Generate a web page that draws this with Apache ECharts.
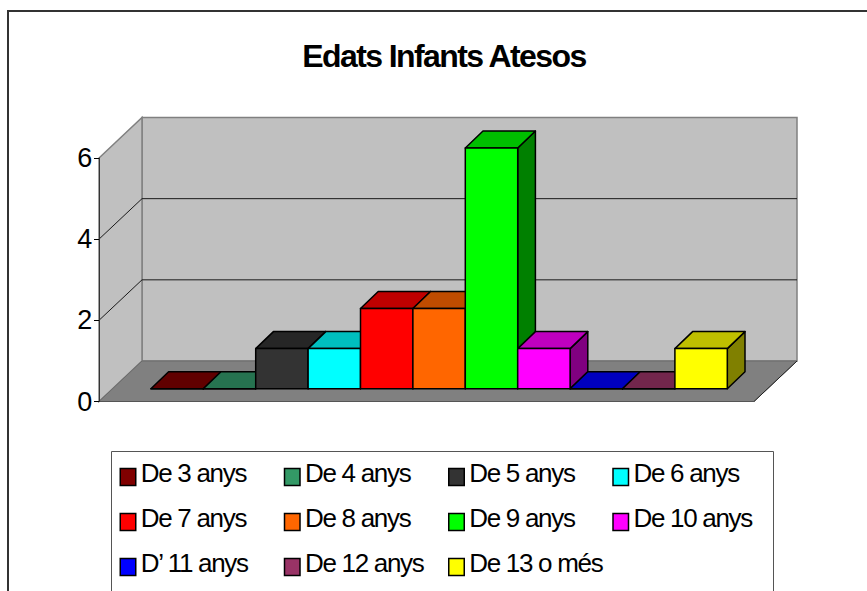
<!DOCTYPE html>
<html>
<head>
<meta charset="utf-8">
<style>
html,body{margin:0;padding:0;background:#fff;overflow:hidden}
#c{width:867px;height:591px}
#c text{letter-spacing:-0.05em}
</style>
<script src="https://cdn.jsdelivr.net/npm/echarts@6/dist/echarts.min.js"></script>
</head>
<body>
<div id="c"></div>
<script>
const titleText = 'Edats Infants Atesos';
const seriesNames = ['De 3 anys','De 4 anys','De 5 anys','De 6 anys','De 7 anys','De 8 anys','De 9 anys','De 10 anys',"D\u2019 11 anys",'De 12 anys','De 13 o m\u00e9s'];
const seriesValues = [0,0,1,1,2,2,6,1,0,0,1];
const faceColors = ['#800000','#339966','#333333','#00ffff','#ff0000','#ff6600','#00ff00','#ff00ff','#0000ff','#993366','#ffff00'];
const topColors  = ['#600000','#267350','#262626','#00bfbf','#bf0000','#bf4c00','#00bf00','#bf00bf','#0000bf','#73264c','#bfbf00'];
const sideColors = ['#400000','#1a4d33','#1a1a1a','#008080','#800000','#803300','#008000','#800080','#000080','#4d1a33','#808000'];
const yTicks = [0,2,4,6];

const FONT = '"Liberation Sans", Arial, sans-serif';
const WALL = [43, -40.5];       // depth of the plot box
const BAR_OFF = [12.6, -12.8];  // front of the bars inside the box
const BAR_DEPTH = [17.7, -17];
const BAR_SHARE = 0.88;         // share of the band taken by all bars

function wallItem(params, api) {
  const v = api.value(1);
  const f = api.coord([0, v]);
  const band = api.size([1, 0])[0];
  const xL = f[0] - band / 2, xR = f[0] + band / 2, y = f[1];
  const [dx, dy] = WALL;
  const children = [];
  const maxTick = yTicks[yTicks.length - 1];
  if (v === 0) {
    const h = api.size([0, maxTick])[1];
    const t = y - h;
    const wallStyle = { fill: '#c0c0c0', stroke: '#808080', lineWidth: 1.5 };
    children.push({ type: 'polygon', shape: { points: [[xL + dx, y + dy], [xR + dx, y + dy], [xR + dx, t + dy], [xL + dx, t + dy]] }, style: wallStyle });
    children.push({ type: 'polygon', shape: { points: [[xL, y], [xL + dx, y + dy], [xL + dx, t + dy], [xL, t]] }, style: wallStyle });
    children.push({ type: 'polygon', shape: { points: [[xL, y], [xR, y], [xR + dx, y + dy], [xL + dx, y + dy]] }, style: { fill: '#808080', stroke: '#6a6a6a', lineWidth: 1 } });
    children.push({ type: 'line', shape: { x1: xL, y1: y, x2: xR, y2: y }, style: { stroke: '#555', lineWidth: 1 } });
    children.push({ type: 'line', shape: { x1: xR, y1: y, x2: xR + dx, y2: y + dy }, style: { stroke: '#222', lineWidth: 1 } });
  } else if (v < maxTick) {
    const col = '#1a1a1a';
    children.push({ type: 'line', shape: { x1: xL, y1: y, x2: xL + dx, y2: y + dy }, style: { stroke: col, lineWidth: 1 } });
    children.push({ type: 'line', shape: { x1: xL + dx, y1: y + dy, x2: xR + dx, y2: y + dy }, style: { stroke: col, lineWidth: 1 } });
  }
  return { type: 'group', children };
}

function barItem(i) {
  return function (params, api) {
    const base = api.coord([0, 0]);
    const top = api.coord([0, api.value(1)]);
    const band = api.size([1, 0])[0];
    const w = band * BAR_SHARE / seriesNames.length;
    const x0 = base[0] + BAR_OFF[0] + (i - seriesNames.length / 2) * w;
    const x1 = x0 + w;
    const yB = base[1] + BAR_OFF[1];
    const yT = top[1] + BAR_OFF[1];
    const [dx, dy] = BAR_DEPTH;
    const line = { stroke: '#000', lineWidth: 1.5, lineJoin: 'round' };
    return {
      type: 'group',
      children: [
        { type: 'polygon', shape: { points: [[x1, yB], [x1 + dx, yB + dy], [x1 + dx, yT + dy], [x1, yT]] }, style: { fill: sideColors[i], ...line } },
        { type: 'polygon', shape: { points: [[x0, yT], [x1, yT], [x1 + dx, yT + dy], [x0 + dx, yT + dy]] }, style: { fill: topColors[i], ...line } },
        { type: 'polygon', shape: { points: [[x0, yB], [x1, yB], [x1, yT], [x0, yT]] }, style: { fill: faceColors[i], ...line } }
      ]
    };
  };
}

const chart = echarts.init(document.getElementById('c'), null, { renderer: 'svg' });
chart.setOption({
  animation: false,
  backgroundColor: '#fff',
  title: {
    text: titleText, left: 439, top: 35, textAlign: 'center',
    textStyle: { fontFamily: FONT, fontSize: 32, fontWeight: 'bold', color: '#000' }
  },
  graphic: [
    { type: 'rect', z: -10, shape: { x: 8, y: 11, width: 1000, height: 800 }, style: { fill: '#fff', stroke: '#333', lineWidth: 2 } },
    { type: 'rect', z: -9, shape: { x: 111.5, y: 451.5, width: 662, height: 300 }, style: { fill: '#fff', stroke: '#555', lineWidth: 1 } }
  ],
  grid: { left: 99, top: 158, width: 655, height: 243.5 },
  xAxis: { type: 'category', data: [''], show: false },
  yAxis: [
    {
      type: 'value', min: 0, max: 6, interval: 2, z: 5,
      splitLine: { show: false },
      axisLine: { show: true, lineStyle: { color: '#333', width: 1 } },
      axisTick: { show: true, length: 5, lineStyle: { color: '#000', width: 1 } },
      axisLabel: { fontFamily: FONT, fontSize: 27, color: '#000', margin: 8 }
    },
    { type: 'value', min: 0, max: 6.07, show: false }
  ],
  legend: {
    left: 119.5, top: 454.5, width: 665, padding: 0, itemGap: 0,
    itemWidth: 15.5, itemHeight: 17, icon: 'rect', selectedMode: false,
    data: seriesNames,
    itemStyle: { borderColor: '#000', borderWidth: 1.5 },
    formatter: name => '{t|' + name + '}\n{s| }',
    textStyle: {
      fontFamily: FONT, fontSize: 26, color: '#000',
      rich: {
        t: { fontFamily: FONT, fontSize: 26, color: '#000', lineHeight: 37, height: 37, width: 143, align: 'left' },
        s: { fontSize: 1, lineHeight: 8, height: 8 }
      }
    }
  },
  series: [
    { type: 'custom', name: 'walls', silent: true, renderItem: wallItem, data: yTicks.map(t => [0, t]), encode: { x: 0, y: 1 } }
  ].concat(seriesNames.map((name, i) => ({
    type: 'custom', name, yAxisIndex: 1, silent: true,
    itemStyle: { color: faceColors[i] },
    renderItem: barItem(i),
    encode: { x: 0, y: 1 },
    data: [[0, seriesValues[i]]]
  })))
});
</script>
</body>
</html>
